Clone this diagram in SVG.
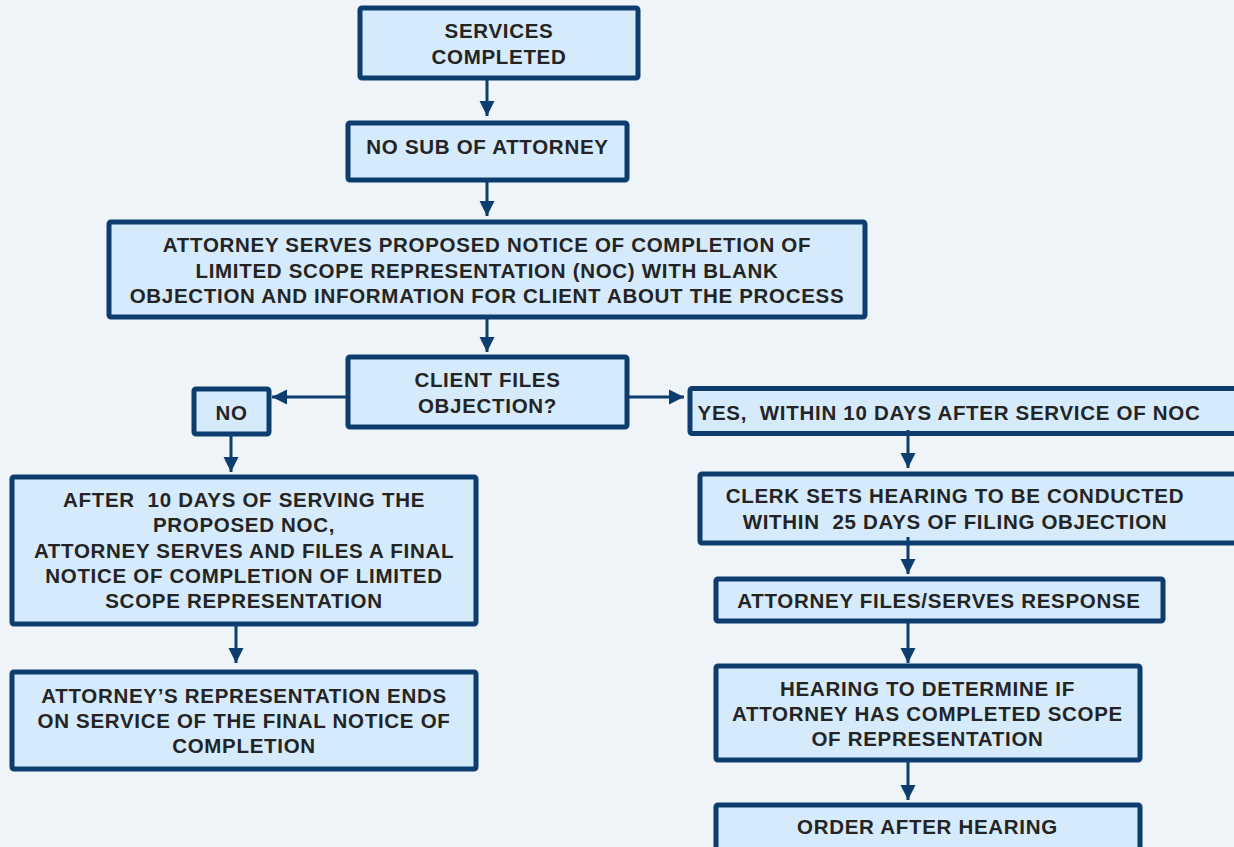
<svg xmlns="http://www.w3.org/2000/svg" width="1234" height="847" viewBox="0 0 1234 847">
<defs>
<marker id="ah" markerUnits="userSpaceOnUse" markerWidth="16" markerHeight="16" refX="15" refY="7.5" orient="auto">
<path d="M0,0 L15,7.5 L0,15 Z" fill="#0c3d6e"/>
</marker>
<style>
.box{fill:#d5eafb;stroke:#0c3d6e;stroke-width:5;}
.t{font-family:"Liberation Sans",Arial,sans-serif;font-weight:bold;font-size:20.5px;fill:#242424;text-anchor:middle;letter-spacing:0.7px;white-space:pre;}
.c{stroke:#0c3d6e;stroke-width:3;fill:none;marker-end:url(#ah);}
</style>
</defs>
<rect width="1234" height="847" fill="#eef4f8"/>
<g id="n1"><rect class="box" x="360" y="8" width="278" height="70" rx="2"/><text class="t" x="499" y="38">SERVICES</text><text class="t" x="499" y="64">COMPLETED</text></g>
<g id="n2"><rect class="box" x="348" y="123" width="279" height="57" rx="2"/><text class="t" x="487.5" y="154">NO SUB OF ATTORNEY</text></g>
<g id="n3"><rect class="box" x="109" y="222" width="756" height="95" rx="2"/><text class="t" x="487" y="252">ATTORNEY SERVES PROPOSED NOTICE OF COMPLETION OF</text><text class="t" x="487" y="277.5">LIMITED SCOPE REPRESENTATION (NOC) WITH BLANK</text><text class="t" x="487" y="303">OBJECTION AND INFORMATION FOR CLIENT ABOUT THE PROCESS</text></g>
<g id="n4"><rect class="box" x="348" y="357" width="279" height="70" rx="2"/><text class="t" x="487.5" y="387">CLIENT FILES</text><text class="t" x="487.5" y="413">OBJECTION?</text></g>
<g id="n5"><rect class="box" x="194" y="389" width="75" height="45" rx="2"/><text class="t" x="231.5" y="420">NO</text></g>
<g id="n6"><rect class="box" x="690" y="388.5" width="560" height="45" rx="2"/><text class="t" x="949" y="420">YES,  WITHIN 10 DAYS AFTER SERVICE OF NOC</text></g>
<g id="n7"><rect class="box" x="700" y="474" width="550" height="69" rx="2"/><text class="t" x="955" y="503">CLERK SETS HEARING TO BE CONDUCTED</text><text class="t" x="955" y="529">WITHIN  25 DAYS OF FILING OBJECTION</text></g>
<g id="n8"><rect class="box" x="716" y="579" width="447" height="42" rx="2"/><text class="t" x="939" y="608">ATTORNEY FILES/SERVES RESPONSE</text></g>
<g id="n9"><rect class="box" x="716" y="666" width="424" height="94" rx="2"/><text class="t" x="927.5" y="696">HEARING TO DETERMINE IF</text><text class="t" x="927.5" y="721">ATTORNEY HAS COMPLETED SCOPE</text><text class="t" x="927.5" y="746">OF REPRESENTATION</text></g>
<g id="n10"><rect class="box" x="716" y="805" width="424" height="60" rx="2"/><text class="t" x="927.5" y="834">ORDER AFTER HEARING</text></g>
<g id="n11"><rect class="box" x="12" y="477" width="464" height="147" rx="2"/><text class="t" x="244" y="507">AFTER  10 DAYS OF SERVING THE</text><text class="t" x="244" y="532">PROPOSED NOC,</text><text class="t" x="244" y="558">ATTORNEY SERVES AND FILES A FINAL</text><text class="t" x="244" y="583">NOTICE OF COMPLETION OF LIMITED</text><text class="t" x="244" y="608">SCOPE REPRESENTATION</text></g>
<g id="n12"><rect class="box" x="12" y="672" width="464" height="97" rx="2"/><text class="t" x="244" y="703">ATTORNEY’S REPRESENTATION ENDS</text><text class="t" x="244" y="728">ON SERVICE OF THE FINAL NOTICE OF</text><text class="t" x="244" y="753">COMPLETION</text></g>
<g id="connectors">
<line class="c" x1="487" y1="80" x2="487" y2="116"/>
<line class="c" x1="487" y1="182" x2="487" y2="216"/>
<line class="c" x1="487" y1="319" x2="487" y2="352"/>
<line class="c" x1="346" y1="397" x2="272" y2="397"/>
<line class="c" x1="629" y1="397" x2="684" y2="397"/>
<line class="c" x1="231" y1="436" x2="231" y2="472"/>
<line class="c" x1="236" y1="626" x2="236" y2="663"/>
<line class="c" x1="908" y1="430" x2="908" y2="468"/>
<line class="c" x1="908" y1="537" x2="908" y2="574"/>
<line class="c" x1="908" y1="623" x2="908" y2="663"/>
<line class="c" x1="908" y1="762" x2="908" y2="800"/>
</g>
</svg>
